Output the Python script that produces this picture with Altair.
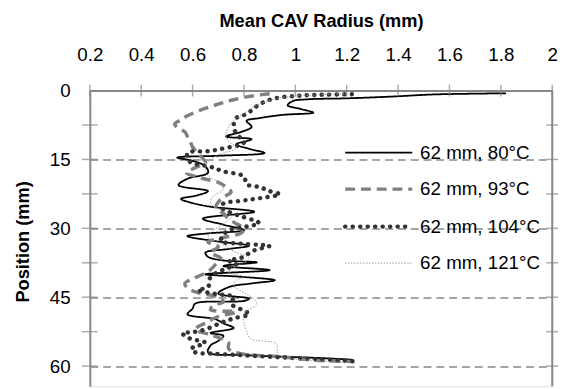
import altair as alt
import pandas as pd

# ---- data ----
pos_80 = [0.6, 0.85, 1.3, 1.7, 1.9, 2.3, 3.2, 4.0, 4.8, 5.3, 6.0, 6.6, 7.9, 9.0, 10.0, 10.6, 11.7, 12.7,
          13.6, 14.2, 14.6, 15.3, 16.5, 17.9, 19.2, 20.6, 21.9, 22.8, 23.6, 24.5, 25.3, 26.4, 27.9, 29.2,
          30.4, 31.1, 31.7, 32.8, 33.8, 34.5, 35.3, 36.2, 37.0, 37.4, 38.2, 39.1, 40.0, 40.6, 41.3, 42.0,
          42.8, 44.2, 45.3, 45.8, 46.4, 47.5, 48.7, 49.8, 50.7, 51.7, 52.8, 53.4, 54.5, 55.5, 57.0, 57.6,
          58.0, 58.3, 58.6]
rad_80 = [1.82, 1.54, 1.38, 1.20, 1.05, 0.99, 0.97, 1.02, 1.07, 0.95, 0.86, 0.81, 0.83, 0.79, 0.73, 0.83,
          0.77, 0.82, 0.88, 0.70, 0.54, 0.60, 0.65, 0.66, 0.58, 0.545, 0.66, 0.62, 0.555, 0.60, 0.67, 0.84,
          0.64, 0.72, 0.80, 0.66, 0.58, 0.69, 0.82, 0.74, 0.65, 0.66, 0.72, 0.85, 0.72, 0.90, 0.65, 0.80,
          0.92, 0.83, 0.74, 0.70, 0.82, 0.80, 0.61, 0.60, 0.58, 0.69, 0.72, 0.76, 0.67, 0.72, 0.70, 0.67,
          0.66, 0.80, 0.98, 1.12, 1.22]

pos_93 = [0.7, 1.2, 2.0, 2.6, 3.5, 4.5, 5.5, 6.5, 7.3, 8.0, 9.0, 10.0, 11.0, 12.3, 13.6, 14.8, 15.7, 16.8,
          17.9, 19.0, 20.0, 21.0, 22.1, 23.2, 24.3, 25.5, 26.8, 27.9, 29.0, 30.0, 31.0, 32.0, 33.0, 34.0,
          35.3, 36.5, 37.8, 39.0, 40.0, 41.0, 42.0, 43.0, 44.0, 45.0, 46.0, 46.8, 47.7, 48.2, 49.2, 50.6,
          52.0, 53.2, 54.2, 54.9, 56.2, 57.2, 58.0, 58.7, 59.0]
rad_93 = [0.90, 0.83, 0.76, 0.72, 0.67, 0.62, 0.58, 0.55, 0.53, 0.54, 0.57, 0.58, 0.59, 0.60, 0.62, 0.64,
          0.65, 0.61, 0.575, 0.63, 0.70, 0.73, 0.75, 0.72, 0.70, 0.69, 0.72, 0.74, 0.77, 0.80, 0.79, 0.72,
          0.66, 0.70, 0.67, 0.71, 0.69, 0.67, 0.64, 0.60, 0.57, 0.58, 0.62, 0.70, 0.72, 0.68, 0.67, 0.77,
          0.70, 0.65, 0.61, 0.67, 0.72, 0.74, 0.74, 0.78, 0.95, 1.07, 1.22]

pos_104 = [0.8, 0.9, 1.0, 1.2, 1.5, 2.2, 3.4, 5.1, 6.0, 7.7, 9.4, 11.3, 12.6, 13.2, 13.6, 15.5, 16.6, 17.6,
           18.7, 20.4, 21.0, 21.9, 22.6, 23.2, 23.6, 24.0, 24.6, 25.4, 26.4, 27.4, 28.3, 28.9, 29.6, 30.4,
           31.5, 32.8, 33.3, 33.6, 33.8, 34.8, 36.4, 37.0, 37.8, 39.0, 40.6, 42.8, 43.4, 44.0, 44.5, 44.9,
           46.4, 47.7, 48.7, 49.6, 50.6, 52.0, 52.6, 52.8, 53.4, 54.0, 54.9, 55.6, 56.2, 57.0, 57.3, 57.6,
           57.9, 58.2, 58.5, 58.8, 59.0]
rad_104 = [1.22, 1.12, 1.05, 1.00, 0.94, 0.89, 0.85, 0.81, 0.77, 0.76, 0.77, 0.80, 0.72, 0.66, 0.58, 0.59,
           0.67, 0.72, 0.80, 0.81, 0.86, 0.90, 0.94, 0.89, 0.84, 0.79, 0.72, 0.71, 0.74, 0.79, 0.84, 0.86,
           0.81, 0.74, 0.72, 0.71, 0.78, 0.86, 0.90, 0.84, 0.79, 0.74, 0.77, 0.72, 0.67, 0.66, 0.62, 0.66,
           0.72, 0.76, 0.75, 0.79, 0.82, 0.76, 0.71, 0.65, 0.60, 0.56, 0.57, 0.59, 0.65, 0.62, 0.595, 0.61,
           0.68, 0.78, 0.88, 0.98, 1.08, 1.18, 1.24]

pos_121 = [0.7, 1.0, 1.5, 2.5, 3.5, 5.0, 6.5, 8.0, 9.5, 11.0, 12.5, 14.0, 15.5, 17.0, 18.5, 20.0, 21.5,
           23.0, 24.5, 26.0, 27.5, 29.0, 30.5, 32.0, 33.5, 35.0, 36.5, 38.0, 39.5, 40.6, 41.3, 42.5, 44.0,
           45.5, 46.6, 47.7, 48.7, 50.6, 52.3, 54.0, 54.9, 55.5, 57.0, 58.0, 58.7, 59.2]
rad_121 = [1.20, 1.05, 0.95, 0.88, 0.84, 0.80, 0.76, 0.74, 0.73, 0.74, 0.77, 0.70, 0.66, 0.65, 0.66, 0.70,
           0.72, 0.68, 0.67, 0.71, 0.75, 0.72, 0.68, 0.66, 0.72, 0.76, 0.82, 0.78, 0.74, 0.80, 0.77, 0.76,
           0.80, 0.84, 0.85, 0.82, 0.80, 0.80, 0.81, 0.825, 0.92, 0.93, 0.93, 0.95, 1.05, 1.20]

series_names = ["62 mm, 80°C", "62 mm, 93°C", "62 mm, 104°C", "62 mm, 121°C"]
x_ticks = [0.2, 0.4, 0.6, 0.8, 1.0, 1.2, 1.4, 1.6, 1.8, 2.0]
y_labels = [0, 15, 30, 45, 60]
y_minor = [7.5, 15, 22.5, 30, 37.5, 45, 52.5, 60]

# ---- layout / styles ----
W, H = 469, 300
Y_MAX = 64.4
GRAY = "#888888"
FONT = "Liberation Sans"
FS = 19

styles = [
    dict(color="#000000", strokeWidth=1.8, strokeDash=[1, 0], strokeCap="butt"),
    dict(color="#808080", strokeWidth=3.5, strokeDash=[10, 6], strokeCap="butt"),
    dict(color="#333333", strokeWidth=4.5, strokeDash=[0.1, 7.5], strokeCap="round"),
    dict(color="#999999", strokeWidth=1.0, strokeDash=[1.5, 1.5], strokeCap="butt"),
]
legend_y = [63, 100, 138, 175]

xscale = alt.Scale(domain=[0.2, 2.0], nice=False, zero=False)
yscale = alt.Scale(domain=[0, Y_MAX], reverse=True, nice=False, zero=False)

x_axis = alt.Axis(orient="top", values=x_ticks, format=".1~f", tickSize=0, labelPadding=26,
                  labelFontSize=FS, labelColor="#000", labelFlush=False, labelOverlap=False,
                  domainColor=GRAY, domainWidth=2, grid=False,
                  title="Mean CAV Radius (mm)", titleFontSize=18.5, titleFontWeight="bold",
                  titleColor="#000", titleY=-71, titleBaseline="middle")
y_axis = alt.Axis(orient="left", values=y_labels, tickSize=0, labelPadding=20, labelFontSize=FS,
                  labelColor="#000", labelFlush=False, labelOverlap=False,
                  domainColor=GRAY, domainWidth=2, grid=True, gridDash=[8, 5],
                  gridColor=GRAY, gridWidth=1.5, title="Position (mm)", titleFontSize=18.5,
                  titleFontWeight="bold", titleColor="#000", titleX=-68, titleY=153,
                  titleAlign="center", titleBaseline="middle")

X = lambda f: alt.X(f, scale=xscale, axis=x_axis)
Y = lambda f: alt.Y(f, scale=yscale, axis=y_axis)

all_pos = [pos_80, pos_93, pos_104, pos_121]
all_rad = [rad_80, rad_93, rad_104, rad_121]

layers = []
for name, p, r, st in zip(series_names, all_pos, all_rad, styles):
    df = pd.DataFrame({"pos": p, "rad": r, "series": name})
    layers.append(alt.Chart(df).mark_line(**st, strokeJoin="round", interpolate="catmull-rom").encode(
        x=X("rad:Q"), y=Y("pos:Q"), order="pos:Q"))

# inside tick marks
top_ticks = alt.Chart(pd.DataFrame({"v": x_ticks})).mark_tick(
    orient="vertical", size=12, thickness=1.5, color=GRAY).encode(x=X("v:Q"), y=alt.value(0))
left_ticks = alt.Chart(pd.DataFrame({"p": y_minor})).mark_tick(
    orient="horizontal", size=16, thickness=1.5, color=GRAY).encode(y=Y("p:Q"), x=alt.value(0))
right_ticks = alt.Chart(pd.DataFrame({"p": y_minor})).mark_tick(
    orient="horizontal", size=12, thickness=1.5, color=GRAY).encode(y=Y("p:Q"), x=alt.value(W))
right_border = alt.Chart(pd.DataFrame({"a": [0]})).mark_rule(color=GRAY, strokeWidth=2).encode(
    x=alt.value(W), y=alt.value(0), y2=alt.value(H))

# legend drawn inside the plot
leg_layers = []
for name, st, ly in zip(series_names, styles, legend_y):
    ldf = pd.DataFrame({"label": [name]})
    leg_layers.append(alt.Chart(ldf).mark_rule(**st).encode(
        x=alt.value(259), x2=alt.value(327), y=alt.value(ly)))
    leg_layers.append(alt.Chart(ldf).mark_text(align="left", baseline="middle", fontSize=FS,
                                               font=FONT, color="#000").encode(
        x=alt.value(335), y=alt.value(ly), text="label:N"))

chart = alt.layer(*layers, top_ticks, left_ticks, right_ticks, right_border, *leg_layers).properties(
    width=W, height=H,
    autosize=alt.AutoSizeParams(type="none"),
    padding={"left": 83, "top": 81, "right": 16, "bottom": 0},
).configure_view(strokeWidth=0, clip=True).configure(font=FONT)

chart.save("out.html", embed_options={"renderer": "svg", "actions": False})
